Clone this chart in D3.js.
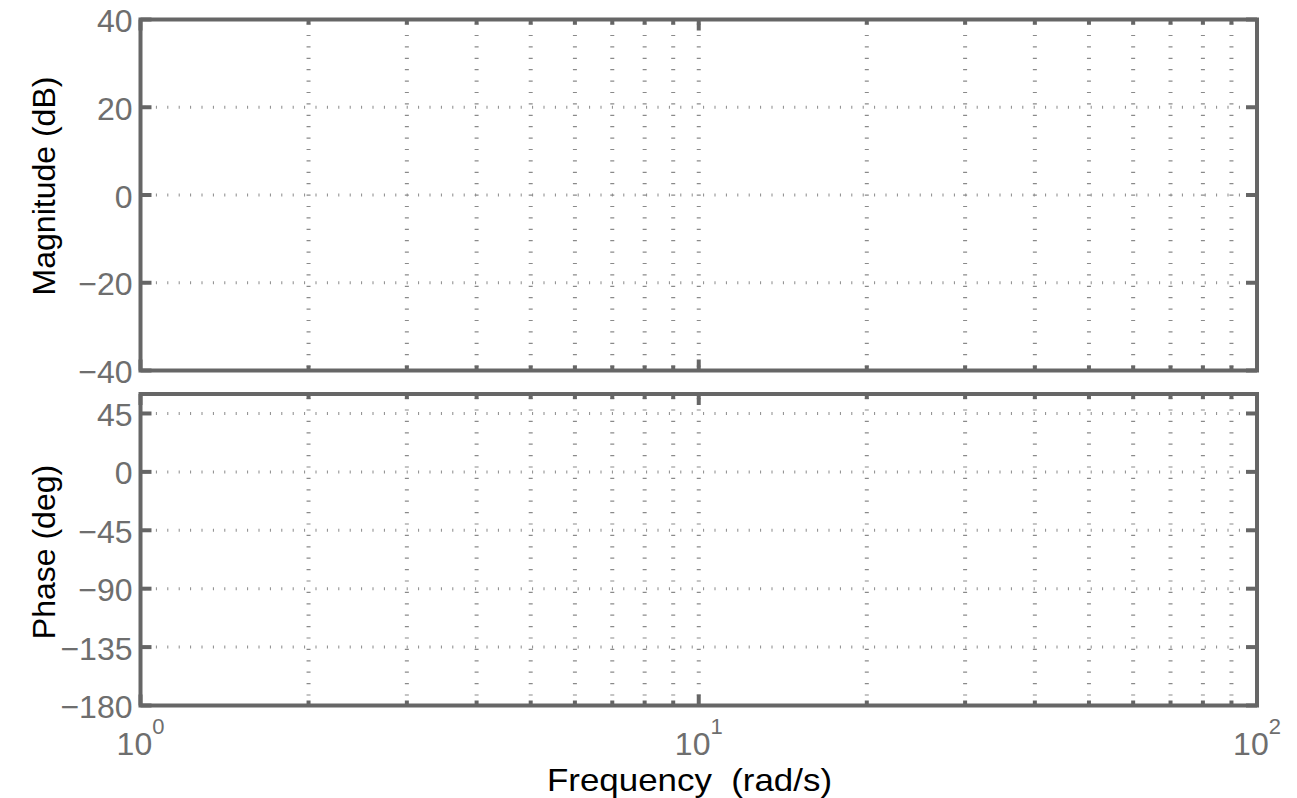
<!DOCTYPE html>
<html>
<head>
<meta charset="utf-8">
<script src="https://cdn.jsdelivr.net/npm/d3@7"></script>
<style>
  html, body { margin: 0; padding: 0; background: #fff; }
  svg { display: block; font-family: "Liberation Sans", Arial, Helvetica, sans-serif; }
</style>
</head>
<body>
<svg id="chart" width="1297" height="798"></svg>
<script>
// Axis ranges and tick values of the Bode diagram
const freqDomain = [1, 100];
const freqMajor = [1, 10, 100];
const freqExponents = ["0", "1", "2"];
const freqMinor = [2, 3, 4, 5, 6, 7, 8, 9, 20, 30, 40, 50, 60, 70, 80, 90];

const magDomain = [-40, 40];
const magTicks = [-40, -20, 0, 20, 40];

const phaseDomain = [-180, 60];
const phaseTicks = [-180, -135, -90, -45, 0, 45];

const magLabel = "Magnitude (dB)";
const phaseLabel = "Phase (deg)";
const freqLabel = "Frequency  (rad/s)";

const axisColor = "#666666";
const gridColor = "#8a8a8a";
const tickTextColor = "#6e6e6e";

const svg = d3.select("#chart");

const left = 140.5, right = 1257;
const x = d3.scaleLog().domain(freqDomain).range([left, right]);

const panels = [
  { top: 19.5, bottom: 370.5, domain: magDomain, ticks: magTicks, label: magLabel, labelY: 186 },
  { top: 394, bottom: 705.5, domain: phaseDomain, ticks: phaseTicks, label: phaseLabel, labelY: 552 }
];

const fmt = v => (v < 0 ? "\u2212" + Math.abs(v) : String(v));

panels.forEach(p => {
  const y = d3.scaleLinear().domain(p.domain).range([p.bottom, p.top]);
  const g = svg.append("g");

  // vertical dotted grid at every decade subdivision
  const vGrid = freqMinor.concat([10]);
  g.selectAll(".vgrid").data(vGrid).join("line")
    .attr("x1", d => x(d)).attr("x2", d => x(d))
    .attr("y1", p.top + 4).attr("y2", p.bottom - 2)
    .attr("stroke", gridColor).attr("stroke-width", 4)
    .attr("stroke-dasharray", "1.2,10.2");

  // horizontal dotted grid at interior major ticks
  const hGrid = p.ticks.filter(t => y(t) > p.top + 2 && y(t) < p.bottom - 2);
  g.selectAll(".hgrid").data(hGrid).join("line")
    .attr("x1", left + 4).attr("x2", right - 2)
    .attr("y1", d => y(d)).attr("y2", d => y(d))
    .attr("stroke", gridColor).attr("stroke-width", 3)
    .attr("stroke-dasharray", "1,10.4");

  // y ticks on left and right sides
  g.selectAll(".ytl").data(p.ticks).join("line")
    .attr("x1", left).attr("x2", left + 11)
    .attr("y1", d => y(d)).attr("y2", d => y(d))
    .attr("stroke", axisColor).attr("stroke-width", 4);
  g.selectAll(".ytr").data(p.ticks).join("line")
    .attr("x1", right).attr("x2", right - 11)
    .attr("y1", d => y(d)).attr("y2", d => y(d))
    .attr("stroke", axisColor).attr("stroke-width", 4);

  // x ticks on top and bottom edges
  [[p.top, 1], [p.bottom, -1]].forEach(([edge, dir]) => {
    g.selectAll(null).data(freqMinor).join("line")
      .attr("x1", d => x(d)).attr("x2", d => x(d))
      .attr("y1", edge).attr("y2", edge + dir * 5)
      .attr("stroke", axisColor).attr("stroke-width", 4);
    g.selectAll(null).data(freqMajor).join("line")
      .attr("x1", d => x(d)).attr("x2", d => x(d))
      .attr("y1", edge).attr("y2", edge + dir * 11)
      .attr("stroke", axisColor).attr("stroke-width", 4);
  });

  // box
  g.append("rect")
    .attr("x", left).attr("y", p.top)
    .attr("width", right - left).attr("height", p.bottom - p.top)
    .attr("fill", "none").attr("stroke", axisColor).attr("stroke-width", 4);

  // y tick labels
  g.selectAll(".ylab").data(p.ticks).join("text")
    .attr("x", left - 8).attr("y", d => y(d) + 12.5)
    .attr("text-anchor", "end")
    .attr("font-size", 32).attr("fill", tickTextColor)
    .text(fmt);

  // y axis title
  g.append("text")
    .attr("transform", `translate(55,${p.labelY}) rotate(-90)`)
    .attr("text-anchor", "middle")
    .attr("font-size", 32).attr("fill", "#000")
    .text(p.label);
});

// x tick labels: powers of ten with superscript exponents
const xl = svg.append("g");
freqMajor.forEach((f, i) => {
  const t = xl.append("text")
    .attr("x", x(f)).attr("y", 755)
    .attr("text-anchor", "middle")
    .attr("font-size", 32).attr("fill", tickTextColor);
  t.append("tspan").text("10");
  t.append("tspan").attr("font-size", 22).attr("dy", -21).text(freqExponents[i]);
});

// x axis title
svg.append("text")
  .attr("x", 547).attr("y", 791)
  .attr("font-size", 31.5).attr("fill", "#000")
  .attr("textLength", 285).attr("lengthAdjust", "spacingAndGlyphs")
  .style("white-space", "pre")
  .text(freqLabel);
</script>
</body>
</html>
